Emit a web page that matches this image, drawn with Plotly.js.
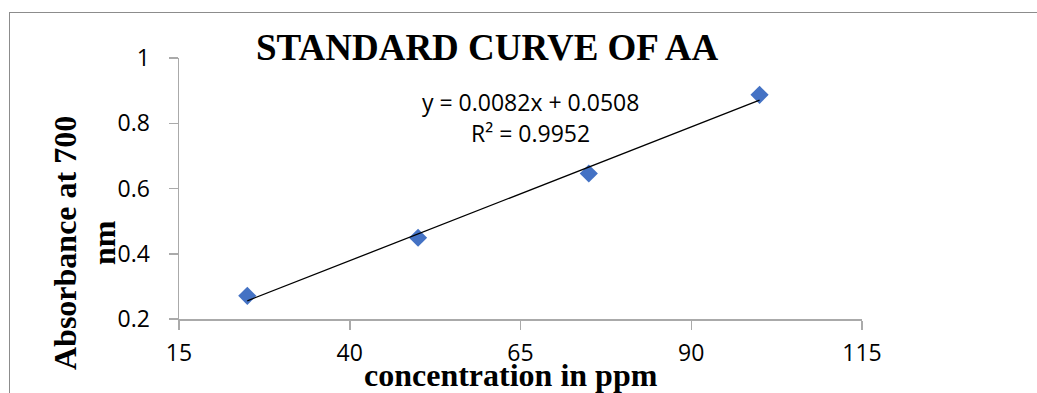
<!DOCTYPE html>
<html>
<head>
<meta charset="utf-8">
<script src="https://cdn.plot.ly/plotly-3.0.1.min.js"></script>
<style>
  html, body { margin: 0; padding: 0; background: #fff; }
  #wrap { position: relative; width: 1037px; height: 393px; overflow: hidden; }
  #chart { position: absolute; left: 0; top: 0; width: 1037px; height: 393px; }
  #frame { position: absolute; left: 9px; top: 12px; width: 1040px; height: 400px;
           border-left: 1.5px solid #8c8c8c; border-top: 1.5px solid #8c8c8c; pointer-events: none; }
</style>
</head>
<body>
<div id="wrap">
  <div id="chart"></div>
  <div id="frame"></div>
</div>
<script>
const concentration = [25, 50, 75, 100];
const absorbance = [0.271, 0.449, 0.646, 0.887];
const slope = 0.0082;
const intercept = 0.0508;
const rSquared = 0.9952;
const xTicks = [15, 40, 65, 90, 115];
const yTicks = [0.2, 0.4, 0.6, 0.8, 1];
const yTickLabels = ['0.2', '0.4', '0.6', '0.8', '1'];

const fitX = [concentration[0], concentration[concentration.length - 1]];
const fitY = fitX.map(v => slope * v + intercept);

const axisColor = '#aaaaaa';
const tickFont = { family: 'Open Sans', size: 23, color: '#000' };
const boldSerif = { family: 'Liberation Serif', size: 32, color: '#000' };

const data = [
  {
    x: concentration, y: absorbance, type: 'scatter', mode: 'markers',
    marker: { symbol: 'diamond', size: 14, color: '#4472C4' },
    showlegend: false, hoverinfo: 'x+y'
  },
  {
    x: fitX, y: fitY, type: 'scatter', mode: 'lines',
    line: { color: '#000', width: 1.3 },
    showlegend: false, hoverinfo: 'skip'
  }
];

const layout = {
  width: 1037, height: 393,
  margin: { l: 179, r: 175, t: 58, b: 74, pad: 0 },
  paper_bgcolor: '#fff', plot_bgcolor: '#fff',
  showlegend: false,
  xaxis: {
    range: [15, 115], tickvals: xTicks, ticktext: xTicks.map(String),
    showgrid: false, zeroline: false, showline: true, linecolor: axisColor, linewidth: 1.5,
    ticks: 'outside', ticklen: 9, tickwidth: 1.5, tickcolor: axisColor,
    tickfont: tickFont, ticklabelstandoff: 4, fixedrange: true
  },
  yaxis: {
    range: [0.2, 1], tickvals: yTicks, ticktext: yTickLabels,
    showgrid: false, zeroline: false, showline: true, linecolor: axisColor, linewidth: 1.5,
    ticks: 'outside', ticklen: 9, tickwidth: 1.5, tickcolor: axisColor,
    tickfont: tickFont, ticklabelstandoff: 14, fixedrange: true
  },
  annotations: [
    {
      text: '<b>STANDARD CURVE OF AA</b>', xref: 'paper', yref: 'paper',
      x: (487 - 179) / 683, y: (319 - 47) / 261, xanchor: 'center', yanchor: 'middle',
      showarrow: false, font: { family: 'Liberation Serif', size: 37, color: '#000' }
    },
    {
      text: '<b>concentration in ppm</b>', xref: 'paper', yref: 'paper',
      x: (511 - 179) / 683, y: (319 - 375) / 261, xanchor: 'center', yanchor: 'middle',
      showarrow: false, font: boldSerif
    },
    {
      text: '<b>Absorbance at 700</b>', xref: 'paper', yref: 'paper',
      x: (65 - 179) / 683, y: (319 - 243) / 261, xanchor: 'center', yanchor: 'middle',
      textangle: -90, showarrow: false, font: boldSerif
    },
    {
      text: '<b>nm</b>', xref: 'paper', yref: 'paper',
      x: (104 - 179) / 683, y: (319 - 243) / 261, xanchor: 'center', yanchor: 'middle',
      textangle: -90, showarrow: false, font: boldSerif
    },
    {
      text: 'y = ' + slope.toFixed(4) + 'x + ' + intercept.toFixed(4), xref: 'paper', yref: 'paper',
      x: (530 - 179) / 683, y: (319 - 102) / 261, xanchor: 'center', yanchor: 'middle',
      showarrow: false, font: { family: 'Open Sans', size: 23, color: '#000' }
    },
    {
      text: 'R² = ' + rSquared.toFixed(4), xref: 'paper', yref: 'paper',
      x: (530 - 179) / 683, y: (319 - 133) / 261, xanchor: 'center', yanchor: 'middle',
      showarrow: false, font: { family: 'Open Sans', size: 23, color: '#000' }
    }
  ]
};

Plotly.newPlot('chart', data, layout, { displayModeBar: false, staticPlot: true });
</script>
</body>
</html>
